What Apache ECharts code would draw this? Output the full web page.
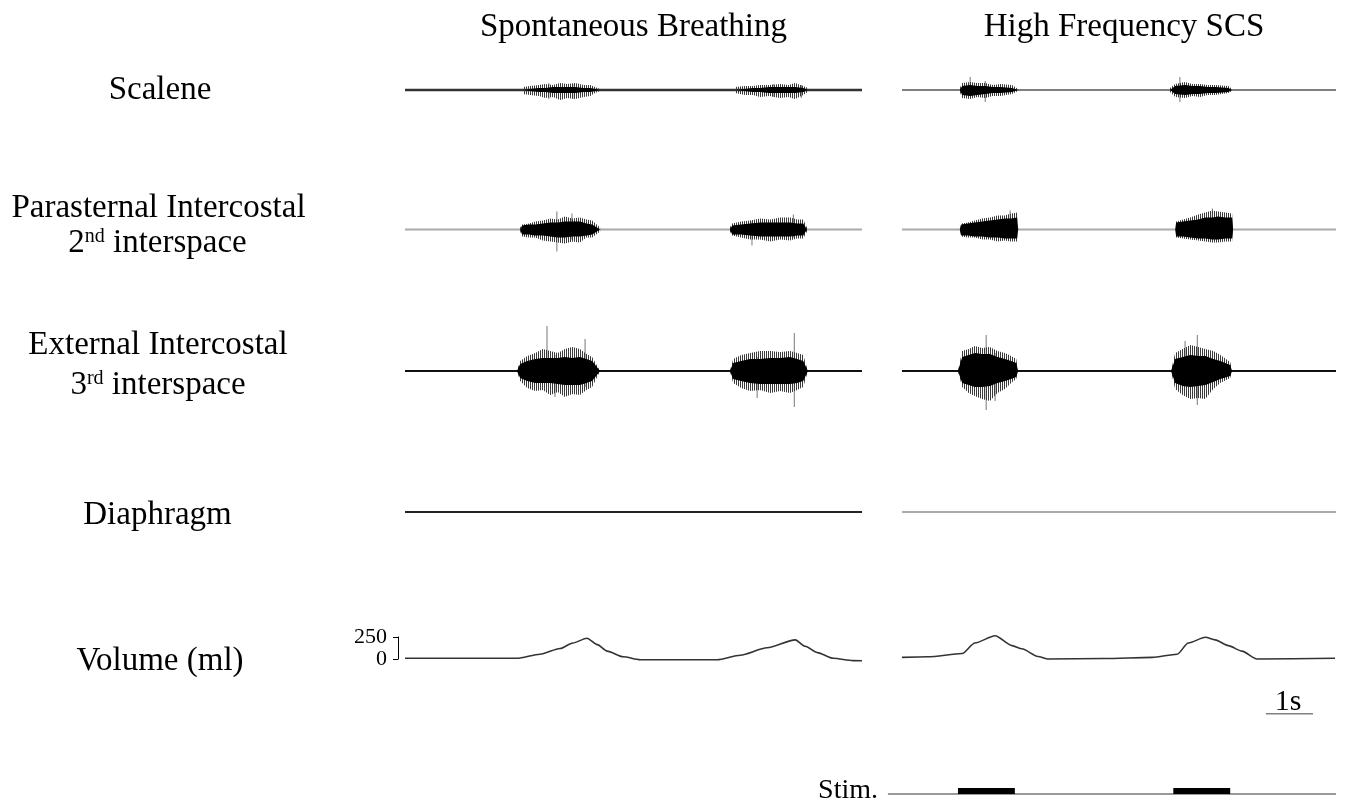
<!DOCTYPE html>
<html>
<head>
<meta charset="utf-8">
<script src="https://cdn.jsdelivr.net/npm/echarts@6/dist/echarts.min.js"></script>
<style>
html, body { margin: 0; background: #fff; }
#main { width: 1349px; height: 804px; }
</style>
</head>
<body>
<div id="main"></div>
<script>
// record length of each panel, seconds (left: spontaneous, right: HF-SCS)
var recordLength = [9.72, 9.23];

// EMG burst envelopes: [t (s), coreUp, coreLow, outerUp, outerLow] in a.u.
var scaleneL = [
    [[2.51,0,0,3,-4],[2.66,1,-1,4,-5],[2.85,2,-2,5,-6],[2.98,2,-2,6,-8],[3.15,3,-3,5,-7],[3.30,3,-3,7,-10],[3.45,3,-3,6,-8],[3.62,3,-3,7,-9],[3.80,2,-2,5,-7],[3.94,2,-2,5,-6],[4.04,1,-1,3,-3],[4.15,0,0,1,-1]],
    [[7.02,0,0,3,-3],[7.23,1,-1,4,-5],[7.40,2,-2,4,-5],[7.55,2,-2,5,-7],[7.75,3,-3,5,-6],[7.98,3,-3,6,-8],[8.15,3,-3,5,-7],[8.30,3,-3,7,-9],[8.47,2,-2,4,-5],[8.57,0,0,2,-2]]
];
var scaleneR = [
    [[1.23,0,0,2,-2],[1.28,4,-5,7,-8],[1.45,5,-6,8,-9],[1.60,4,-5,7,-7],[1.77,4,-4,7,-8],[1.93,3,-3,5,-6],[2.09,3,-3,6,-6],[2.34,2,-2,5,-4],[2.47,0,0,1,-1]],
    [[5.70,0,0,2,-2],[5.81,4,-4,6,-7],[6.02,5,-5,8,-8],[6.18,4,-4,6,-6],[6.34,4,-4,6,-7],[6.50,3,-3,5,-5],[6.66,3,-3,5,-5],[6.94,2,-2,4,-3],[7.02,0,0,1,-1]]
];
var parasternalL = [
    [[2.45,0,0,2,-2],[2.49,4,-5,5,-7],[2.64,5,-5,6,-8],[2.77,5,-6,8,-8],[2.93,6,-6,9,-11],[3.09,7,-7,11,-12],[3.25,7,-8,10,-13],[3.40,8,-8,13,-14],[3.56,8,-7,11,-12],[3.72,8,-7,12,-13],[3.86,6,-6,10,-8],[3.98,5,-5,9,-8],[4.15,0,0,2,-2]],
    [[6.91,0,0,2,-2],[6.96,4,-5,6,-6],[7.15,5,-5,8,-8],[7.34,6,-6,9,-10],[7.55,7,-7,11,-10],[7.77,7,-7,10,-12],[7.98,7,-7,12,-10],[8.19,7,-7,12,-11],[8.34,6,-6,10,-9],[8.47,6,-6,10,-9],[8.55,0,0,2,-2]]
];
var parasternalR = [
    [[1.23,0,0,0,0],[1.26,5,-6,6,-7],[1.40,6,-6,7,-8],[1.55,7,-7,9,-8],[1.70,8,-7,11,-10],[1.87,9,-8,12,-10],[2.03,10,-8,14,-12],[2.19,11,-9,14,-11],[2.32,11,-9,16,-12],[2.45,12,-9,17,-12],[2.47,0,0,0,0]],
    [[5.81,0,0,0,0],[5.83,7,-7,8,-8],[5.98,8,-7,10,-9],[6.13,9,-8,12,-10],[6.30,10,-9,15,-11],[6.45,12,-9,17,-12],[6.60,12,-10,19,-13],[6.72,13,-10,18,-13],[6.88,12,-9,17,-12],[7.02,12,-9,16,-12],[7.04,0,0,0,0]]
];
var externalL = [
    [[2.38,0,0,0,0],[2.45,7,-7,10,-10],[2.60,10,-10,15,-17],[2.77,12,-12,18,-20],[2.93,13,-12,22,-19],[3.09,13,-12,20,-24],[3.25,13,-13,18,-21],[3.40,14,-14,22,-26],[3.56,13,-14,24,-23],[3.72,14,-14,22,-24],[3.86,12,-12,17,-19],[3.98,10,-10,14,-16],[4.15,0,0,0,0]],
    [[6.91,0,0,0,0],[6.98,8,-8,12,-12],[7.15,10,-10,16,-17],[7.34,12,-12,18,-20],[7.55,12,-13,20,-19],[7.77,13,-13,20,-22],[7.98,13,-13,19,-20],[8.19,14,-13,20,-22],[8.34,12,-12,18,-19],[8.47,10,-10,16,-16],[8.57,0,0,0,0]]
];
var externalR = [
    [[1.19,0,0,0,0],[1.28,14,-12,20,-16],[1.42,16,-14,22,-22],[1.55,18,-16,25,-25],[1.70,17,-16,23,-28],[1.87,17,-15,24,-30],[2.03,14,-12,20,-22],[2.19,12,-10,18,-18],[2.32,10,-8,15,-12],[2.43,8,-6,12,-8],[2.47,0,0,0,0]],
    [[5.72,0,0,0,0],[5.81,12,-12,18,-18],[5.97,14,-15,22,-24],[6.13,16,-16,26,-28],[6.30,15,-15,24,-27],[6.45,15,-14,22,-28],[6.62,12,-11,20,-18],[6.77,10,-8,16,-12],[6.98,6,-5,9,-7],[7.02,0,0,0,0]]
];

// single large spikes: [t, up, down]
var scaleneSpikesL = [[3.06,7,-9],[3.57,6,-9],[7.83,6,-7],[8.43,5,-8]];
var scaleneSpikesR = [[1.45,13,-6],[1.77,9,-12],[5.91,13,-12]];
var parasternalSpikesL = [[3.23,18,-22],[3.55,16,-10],[7.38,8,-16],[8.26,15,-8]];
var parasternalSpikesR = [[2.30,19,-8],[6.60,21,-10]];
var externalSpikesL = [[3.02,45,-12],[3.19,16,-26],[3.83,32,-16],[7.49,14,-27],[8.28,38,-36]];
var externalSpikesR = [[1.79,36,-39],[1.98,18,-30],[6.02,30,-14],[6.28,36,-34]];

// lung volume, [t (s), ml]
var volumeL = [[0,8],[2.38,8],[2.87,54],[3.30,120],[3.57,182],[3.87,236],[4.09,163],[4.30,90],[4.64,25],[5.0,-8],[6.64,-8],[7.13,43],[7.70,127],[8.30,217],[8.51,145],[8.77,73],[9.11,8],[9.53,-18],[9.72,-20]];
var volumeR = [[0,18],[0.55,25],[1.28,62],[1.55,182],[1.98,264],[2.34,152],[2.55,116],[2.89,29],[3.11,0],[4.3,5],[5.32,18],[5.85,54],[6.09,182],[6.45,247],[6.66,217],[6.94,152],[7.23,90],[7.55,0],[9.21,8]];
var volumeTicks = [0, 250];

// stimulation trains (s)
var stimOn = [[1.19, 2.40], [5.77, 6.98]];
var stimStart = -0.3;
var scaleBar = [7.74, 8.74];

var serif = '"Liberation Serif", "Times New Roman", serif';

// vertical-stripe pattern to mimic dense EMG spikes
var hatch = document.createElement('canvas');
hatch.width = 2; hatch.height = 4;
var hctx = hatch.getContext('2d');
hctx.fillStyle = '#3a3a3a';
hctx.fillRect(0, 0, 1, 4);

var chart = echarts.init(document.getElementById('main'));

var cols = [{left: 405, width: 457}, {left: 902, width: 434}];
var rows = [
    {top: 40, height: 100, min: -50, max: 50, base: ['#333', '#555'], bw: [2.5, 1.5]},
    {top: 179.5, height: 100, min: -50, max: 50, base: ['#aaa', '#aaa'], bw: [2, 2]},
    {top: 321, height: 100, min: -50, max: 50, base: ['#111', '#111'], bw: [2, 2]},
    {top: 462, height: 100, min: -50, max: 50, base: ['#222', '#aaa'], bw: [2, 2]},
    {top: 637, height: 22, min: volumeTicks[0], max: volumeTicks[1]}
];

var grids = [], xAxes = [], yAxes = [];
rows.forEach(function (r, ri) {
    cols.forEach(function (c, ci) {
        grids.push({left: c.left, width: c.width, top: r.top, height: r.height});
        xAxes.push({gridIndex: grids.length - 1, type: 'value', min: 0, max: recordLength[ci], show: false});
        yAxes.push({gridIndex: grids.length - 1, type: 'value', min: r.min, max: r.max, show: false});
    });
});
// stim grid (10), scale bar grid (11), volume calibration bracket (12)
grids.push({left: 902 + stimStart * 47, width: 434 - stimStart * 47, top: 788, height: 6});
xAxes.push({gridIndex: 10, type: 'value', min: stimStart, max: recordLength[1], show: false});
yAxes.push({gridIndex: 10, type: 'value', min: 0, max: 1, show: false});
grids.push({left: 902, width: 434, top: 704, height: 10});
xAxes.push({gridIndex: 11, type: 'value', min: 0, max: recordLength[1], show: false});
yAxes.push({gridIndex: 11, type: 'value', min: 0, max: 1, show: false});
grids.push({left: 398, width: 4, top: 637, height: 22});
xAxes.push({gridIndex: 12, type: 'value', min: 0, max: 1, show: false});
yAxes.push({
    gridIndex: 12, type: 'value',
    min: volumeTicks[0], max: volumeTicks[1], interval: volumeTicks[1] - volumeTicks[0],
    axisLine: {show: true, lineStyle: {color: '#000', width: 1}},
    axisTick: {show: true, length: 5, lineStyle: {color: '#000', width: 1}},
    axisLabel: {
        show: true, color: '#000', fontFamily: serif, fontSize: 22, margin: 11,
        showMinLabel: true, showMaxLabel: true, hideOverlap: false
    },
    splitLine: {show: false}
});

function envelope(bursts, idx) {
    return {
        type: 'custom', xAxisIndex: idx, yAxisIndex: idx, silent: true, z: 3,
        data: bursts.map(function (b) { return [b[0][0], 0]; }),
        renderItem: function (params, api) {
            var b = bursts[params.dataIndex];
            var rev = b.slice().reverse();
            var outer = b.map(function (p) { return api.coord([p[0], p[3]]); })
                .concat(rev.map(function (p) { return api.coord([p[0], p[4]]); }));
            var core = b.map(function (p) { return api.coord([p[0], p[1]]); })
                .concat(rev.map(function (p) { return api.coord([p[0], p[2]]); }));
            return {type: 'group', children: [
                {type: 'polygon', shape: {points: outer}, style: {fill: {image: hatch, repeat: 'repeat'}}},
                {type: 'polygon', shape: {points: core}, style: {fill: '#000'}}
            ]};
        }
    };
}

function spikes(list, idx) {
    return {
        type: 'custom', xAxisIndex: idx, yAxisIndex: idx, silent: true, z: 2,
        data: list,
        renderItem: function (params, api) {
            var a = api.coord([api.value(0), api.value(1)]);
            var b = api.coord([api.value(0), api.value(2)]);
            return {type: 'line', shape: {x1: a[0], y1: a[1], x2: b[0], y2: b[1]}, style: {stroke: '#777', lineWidth: 1}};
        }
    };
}

function baseline(idx, ci, color, width, from) {
    return {
        type: 'line', xAxisIndex: idx, yAxisIndex: idx, silent: true, symbol: 'none', z: 1,
        data: [[from || 0, 0], [recordLength[ci], 0]],
        lineStyle: {color: color, width: width}
    };
}

var series = [];
var emg = [[scaleneL, scaleneR, scaleneSpikesL, scaleneSpikesR],
           [parasternalL, parasternalR, parasternalSpikesL, parasternalSpikesR],
           [externalL, externalR, externalSpikesL, externalSpikesR]];
for (var ri = 0; ri < 4; ri++) {
    for (var ci = 0; ci < 2; ci++) {
        var idx = ri * 2 + ci;
        series.push(baseline(idx, ci, rows[ri].base[ci], rows[ri].bw[ci]));
        if (ri < 3) {
            series.push(envelope(emg[ri][ci], idx));
            series.push(spikes(emg[ri][ci + 2], idx));
        }
    }
}
[volumeL, volumeR].forEach(function (v, ci) {
    series.push({
        type: 'line', xAxisIndex: 8 + ci, yAxisIndex: 8 + ci, silent: true, symbol: 'none',
        clip: false, smooth: 0.25, smoothMonotone: 'x',
        data: v, lineStyle: {color: '#333', width: 1.6}
    });
});
series.push(baseline(10, 1, '#999', 2, stimStart));
series.push({
    type: 'custom', xAxisIndex: 10, yAxisIndex: 10, silent: true, z: 3,
    data: stimOn,
    renderItem: function (params, api) {
        var a = api.coord([api.value(0), 1]);
        var b = api.coord([api.value(1), 0]);
        return {type: 'rect', shape: {x: a[0], y: a[1], width: b[0] - a[0], height: b[1] - a[1]}, style: {fill: '#000'}};
    }
});
series.push({
    type: 'line', xAxisIndex: 11, yAxisIndex: 11, silent: true, symbol: 'none',
    data: [[scaleBar[0], 0], [scaleBar[1], 0]], lineStyle: {color: '#000', width: 1}
});

function label(text, x, y, align, size) {
    return {
        type: 'text', x: x, y: y, silent: true,
        style: {
            text: text, fontFamily: serif, fontSize: size || 33, fill: '#000',
            align: align || 'center', textAlign: align || 'center',
            verticalAlign: 'middle', textVerticalAlign: 'middle',
            rich: {s: {fontFamily: serif, fontSize: 20, verticalAlign: 'top', padding: [0, 0, 12, 0]}}
        }
    };
}

var texts = [
    label('Spontaneous Breathing', 633.5, 27),
    label('High Frequency SCS', 1124, 27),
    label('Scalene', 160, 90),
    label('Parasternal Intercostal', 158.5, 208),
    label('2{s|nd} interspace', 157.5, 243),
    label('External Intercostal', 158, 345),
    label('3{s|rd} interspace', 158, 385),
    label('Diaphragm', 157.5, 515),
    label('Volume (ml)', 160, 661),
    label('Stim.', 878, 791, 'right', 28),
    label('1s', 1288, 702, 'center', 30)
];

chart.setOption({
    backgroundColor: '#fff',
    animation: false,
    grid: grids,
    xAxis: xAxes,
    yAxis: yAxes,
    series: series,
    graphic: texts
});
</script>
</body>
</html>
